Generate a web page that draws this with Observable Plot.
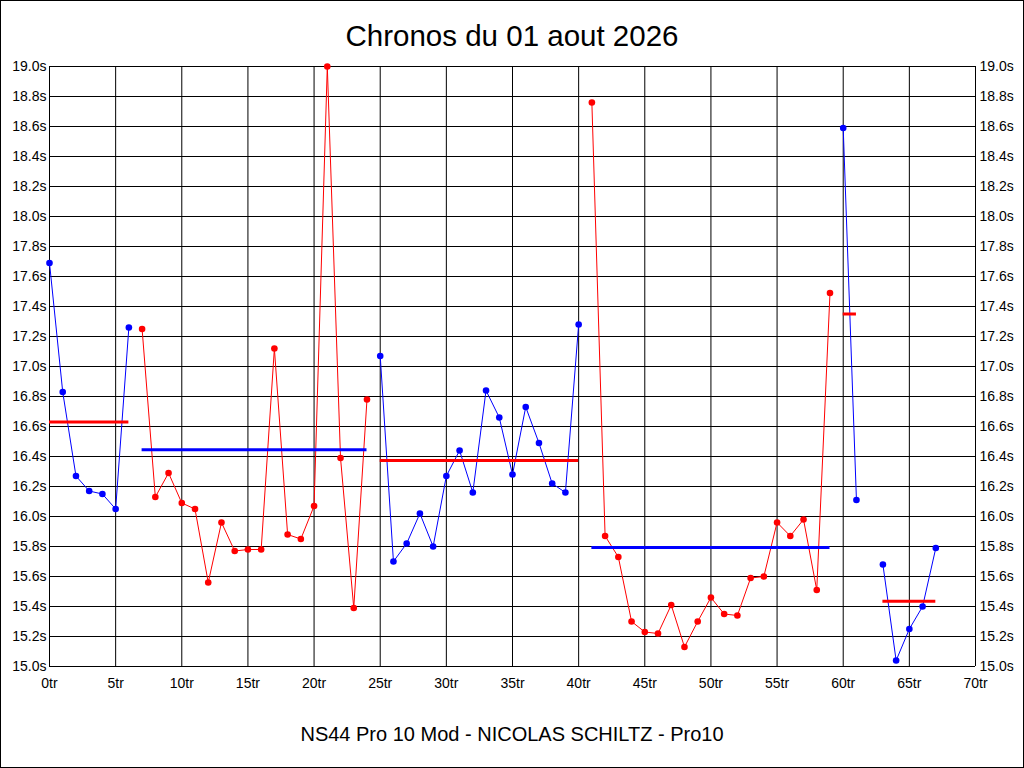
<!DOCTYPE html>
<html>
<head>
<meta charset="utf-8">
<script src="https://cdn.jsdelivr.net/npm/d3@7"></script>
<script src="https://cdn.jsdelivr.net/npm/@observablehq/plot@0.6"></script>
<style>
  html, body { margin: 0; padding: 0; background: #fff; }
  #wrap { position: relative; width: 1024px; height: 768px; overflow: hidden; background: #fff; }
  #border { position: absolute; left: 0; top: 0; width: 1024px; height: 768px; box-sizing: border-box; border: 1px solid #000; pointer-events: none; }
  #chart { position: absolute; left: 0; top: 0; }
  .label { position: absolute; left: 0; width: 1024px; text-align: center; font-family: 'Liberation Sans', Arial, sans-serif; color: #000; white-space: nowrap; }
  #title { font-size: 29.5px; line-height: 30px; top: 21px; }
  #footer { font-size: 20px; line-height: 20px; top: 724px; }
</style>
</head>
<body>
<div id="wrap">
  <div id="chart"></div>
  <div id="title" class="label">Chronos du 01 aout 2026</div>
  <div id="footer" class="label">NS44 Pro 10 Mod - NICOLAS SCHILTZ - Pro10</div>
  <div id="border"></div>
</div>
<script>
// Lap times in seconds, index = lap number (null = no lap recorded)
const lapTimes = [
  17.69, 16.83, 16.27, 16.17, 16.15, 16.05, 17.26,
  17.25, 16.13, 16.29, 16.09, 16.05, 15.56, 15.96, 15.77, 15.78, 15.78, 17.12, 15.88, 15.85, 16.07, 19.00, 16.39, 15.39, 16.78,
  17.07, 15.70, 15.82, 16.02, 15.80, 16.27, 16.44, 16.16, 16.84, 16.66, 16.28, 16.73, 16.49, 16.22, 16.16, 17.28,
  18.76, 15.87, 15.73, 15.30, 15.23, 15.22, 15.41, 15.13, 15.30, 15.46, 15.35, 15.34, 15.59, 15.60, 15.96, 15.87, 15.98, 15.51, 17.49,
  18.59, 16.11,
  null,
  15.68, 15.04, 15.25, 15.40, 15.79
];
// Stints: first lap, last lap, average time
const stintStart = [0, 7, 25, 41, 60, 63];
const stintEnd   = [6, 24, 40, 59, 61, 67];
const stintAvg   = [16.63, 16.445, 16.373, 15.793, 17.35, 15.435];
const stintSide  = ["A", "B", "A", "B", "A", "A"];
// Axis ticks
const xTicks = [0, 5, 10, 15, 20, 25, 30, 35, 40, 45, 50, 55, 60, 65, 70];
const yTicks = [15.0, 15.2, 15.4, 15.6, 15.8, 16.0, 16.2, 16.4, 16.6, 16.8, 17.0, 17.2, 17.4, 17.6, 17.8, 18.0, 18.2, 18.4, 18.6, 18.8, 19.0];

// colours (style)
const lineColor = {A: "#0000ff", B: "#ff0000"};
const avgColor  = {A: "#ff0000", B: "#0000ff"};

const stintOf = lap => stintStart.findIndex((s, k) => lap >= s && lap <= stintEnd[k]);
const rows = lapTimes
  .map((t, i) => ({lap: i, time: t, stint: stintOf(i)}))
  .filter(d => d.time != null);
const stints = stintStart.map((s, k) => ({start: s, end: stintEnd[k], avg: stintAvg[k], side: stintSide[k]}));

const chart = Plot.plot({
  width: 1024,
  height: 768,
  marginLeft: 49,
  marginRight: 49,
  marginTop: 66,
  marginBottom: 102,
  style: {fontFamily: "'Liberation Sans', Arial, sans-serif", fontSize: "14px", background: "transparent", color: "#000", overflow: "visible"},
  x: {domain: [0, 70]},
  y: {domain: [15, 19]},
  color: {type: "identity"},
  marks: [
    Plot.gridX(xTicks, {stroke: "#000", strokeOpacity: 1, strokeWidth: 1}),
    Plot.gridY(yTicks, {stroke: "#000", strokeOpacity: 1, strokeWidth: 1}),
    Plot.line(rows, {x: "lap", y: "time", z: "stint", stroke: d => lineColor[stintSide[d.stint]], strokeWidth: 1}),
    Plot.ruleY(stints, {y: "avg", x1: "start", x2: "end", stroke: d => avgColor[d.side], strokeWidth: 3}),
    Plot.dot(rows, {x: "lap", y: "time", r: 3.3, fill: d => lineColor[stintSide[d.stint]], stroke: "none"}),
    Plot.axisX(xTicks, {tickFormat: d => `${d}tr`, tickSize: 0, tickPadding: 12, fontSize: 14, label: null}),
    Plot.axisY(yTicks, {anchor: "left", tickFormat: d => d.toFixed(1) + "s", tickSize: 0, tickPadding: 3, fontSize: 14, label: null}),
    Plot.axisY(yTicks, {anchor: "right", tickFormat: d => d.toFixed(1) + "s", tickSize: 0, tickPadding: 4, fontSize: 14, label: null})
  ]
});
document.getElementById("chart").appendChild(chart);
</script>
</body>
</html>
